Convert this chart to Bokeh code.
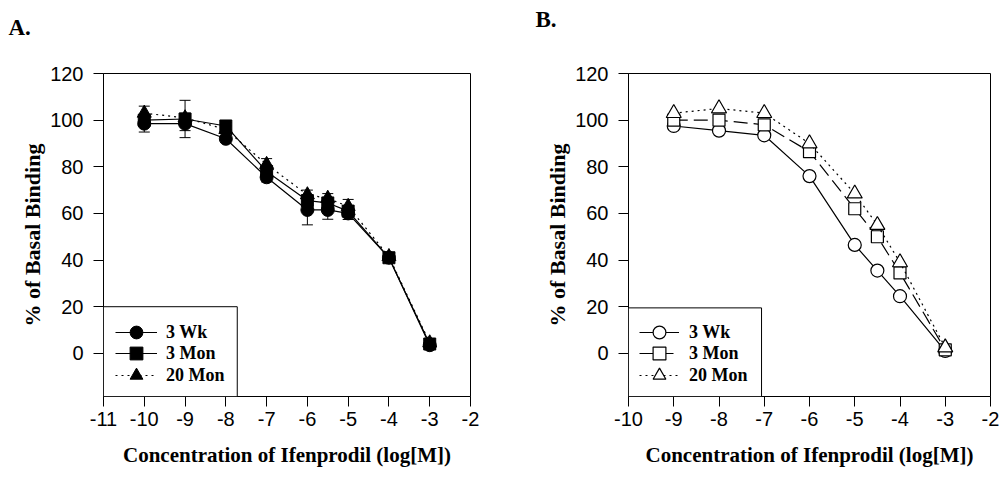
from bokeh.plotting import figure
from bokeh.models import (Range1d, FixedTicker, Legend, LegendItem, Whisker,
                          TeeHead, ColumnDataSource, Title, BoxAnnotation)
from bokeh.layouts import row
from bokeh.embed import file_html
from bokeh.resources import INLINE

# ---------------- data ----------------
conc_a = [-10, -9, -8, -7, -6, -5.5, -5, -4, -3]
a_3wk = [98.5, 98.5, 92, 75.5, 61.5, 61.5, 60, 41, 3.5]
a_3mon = [100, 100.5, 97.5, 78, 65.5, 64.5, 61, 41, 4]
a_20mon = [103, 101, 96, 81, 68, 66.5, 63, 41.5, 4.5]
a_3wk_err = [3.6, 3, 1.5, 2, 6.4, 4, 2.6, 1.5, 1.5]
a_3mon_err = [2, 8, 1.5, 2, 2, 2, 2, 1.5, 1.5]
a_20mon_err = [3, 2, 1.5, 2.5, 2, 2, 3, 1.5, 1.5]

conc_b = [-9, -8, -7, -6, -5, -4.5, -4, -3]
b_3wk = [97.5, 95.5, 93.5, 76, 46.5, 35.5, 24.5, 1]
b_3mon = [100, 100, 98, 86.5, 62, 50, 34.5, 1.5]
b_20mon = [103, 105, 103, 90, 68.5, 55, 39, 2.5]

series_names = ["3 Wk", "3 Mon", "20 Mon"]
y_ticks = [0, 20, 40, 60, 80, 100, 120]
x_ticks_a = [-11, -10, -9, -8, -7, -6, -5, -4, -3, -2]
x_ticks_b = [-10, -9, -8, -7, -6, -5, -4, -3, -2]

SERIF = "Liberation Serif"
SANS = "Liberation Sans"
Y_RANGE = (-18.5, 120)


def make_fig(width, border_left, border_right, xr, xticks, panel, t_offset, t_lh):
    # panel letter as a left-aligned title; the empty second line lifts it up
    p = figure(width=width, height=479, output_backend="svg", toolbar_location=None,
               x_range=Range1d(*xr), y_range=Range1d(*Y_RANGE),
               min_border_left=border_left, min_border_right=border_right,
               min_border_top=73, min_border_bottom=83,
               title=Title(text=panel + "\n ", align="left", offset=t_offset,
                           standoff=0, vertical_align="top", text_line_height=t_lh,
                           text_font=SERIF, text_font_style="bold",
                           text_font_size="23px", text_color="black"))
    p.background_fill_color = "white"
    p.border_fill_color = "white"
    p.outline_line_color = "black"
    p.outline_line_width = 1
    p.grid.visible = False
    for ax in (p.xaxis[0], p.yaxis[0]):
        ax.axis_line_color = "black"
        ax.major_tick_line_color = "black"
        ax.major_tick_out = 10
        ax.major_tick_in = 0
        ax.minor_tick_line_color = None
        ax.major_label_text_font = SANS
        ax.major_label_text_font_size = "20px"
        ax.major_label_text_color = "black"
        ax.axis_label_text_font = SERIF
        ax.axis_label_text_font_style = "bold"
        ax.axis_label_text_color = "black"
    p.xaxis.axis_label_text_font_size = "21px"
    p.yaxis.axis_label_text_font_size = "22px"
    p.xaxis.ticker = FixedTicker(ticks=xticks)
    p.xaxis.major_label_overrides = {t: ("-%d" % abs(t)) if t < 0 else str(t) for t in xticks}
    p.yaxis.ticker = FixedTicker(ticks=y_ticks)
    p.xaxis.major_label_standoff = 5
    p.yaxis.major_label_standoff = 10
    p.xaxis.axis_label_standoff = 14
    p.yaxis.axis_label_standoff = 2
    p.xaxis.axis_label = "Concentration of Ifenprodil (log[M])"
    p.yaxis.axis_label = "% of Basal Binding"
    return p


def add_legend(p, items, box_right, box_top, x_off, glyph_w, standoff):
    # legend frame (drawn in data space at the lower-left corner of the plot)
    p.add_layout(BoxAnnotation(left=p.x_range.start, right=box_right,
                               bottom=Y_RANGE[0], top=box_top,
                               fill_color="white", fill_alpha=1.0,
                               line_color="black", line_width=1, line_alpha=1.0))
    # one legend per entry so the rows can be packed tighter than the glyph height
    for item, y_off in zip(items, [48, 27, 5]):
        p.add_layout(Legend(items=[item], location=(x_off, y_off),
                            glyph_width=glyph_w, glyph_height=32, spacing=0, padding=0,
                            label_standoff=standoff,
                            label_text_font=SERIF, label_text_font_style="bold",
                            label_text_font_size="18px", label_text_color="black",
                            border_line_color=None, background_fill_alpha=0.0,
                            margin=0))


# ---------------- Panel A ----------------
pa = make_fig(500, 103, 30, (-11, -2), x_ticks_a, "A.", -95, 1.26)
styles_a = [("circle", 13, "solid"), ("square", 12, "solid"), ("triangle", 14, "2 4")]
ys_a = [a_3wk, a_3mon, a_20mon]
errs_a = [a_3wk_err, a_3mon_err, a_20mon_err]
items_a = []
for (marker, size, dash), ys, er, name in zip(styles_a, ys_a, errs_a, series_names):
    src = ColumnDataSource(dict(x=conc_a, y=ys,
                                lo=[v - e for v, e in zip(ys, er)],
                                hi=[v + e for v, e in zip(ys, er)]))
    pa.add_layout(Whisker(source=src, base="x", lower="lo", upper="hi",
                          line_color="black", line_width=1,
                          lower_head=TeeHead(size=11, line_color="black", line_width=1),
                          upper_head=TeeHead(size=11, line_color="black", line_width=1)))
    ln = pa.line("x", "y", source=src, line_color="black", line_width=1.2, line_dash=dash)
    sc = pa.scatter("x", "y", source=src, marker=marker, size=size,
                    fill_color="black", line_color="black", line_width=1)
    items_a.append(LegendItem(label=name, renderers=[ln, sc]))
add_legend(pa, items_a, -7.72, 20, 12, 42, 9)

# ---------------- Panel B ----------------
pb = make_fig(499, 128, 9, (-10, -2), x_ticks_b, "B.", -93, 1.6)
styles_b = [("circle", 13, "solid"), ("square", 12, "14 6"), ("triangle", 15, "2 4")]
ys_b = [b_3wk, b_3mon, b_20mon]
items_b = []
for (marker, size, dash), ys, name in zip(styles_b, ys_b, series_names):
    src = ColumnDataSource(dict(x=conc_b, y=ys))
    ln = pb.line("x", "y", source=src, line_color="black", line_width=1.2, line_dash=dash)
    sc = pb.scatter("x", "y", source=src, marker=marker, size=size,
                    fill_color="white", line_color="black", line_width=1.2)
    items_b.append(LegendItem(label=name, renderers=[ln, sc]))
add_legend(pb, items_b, -7.06, 19.5, 11, 40, 10)

layout = row(pa, pb)
open("out.html", "w").write(file_html(layout, INLINE))
